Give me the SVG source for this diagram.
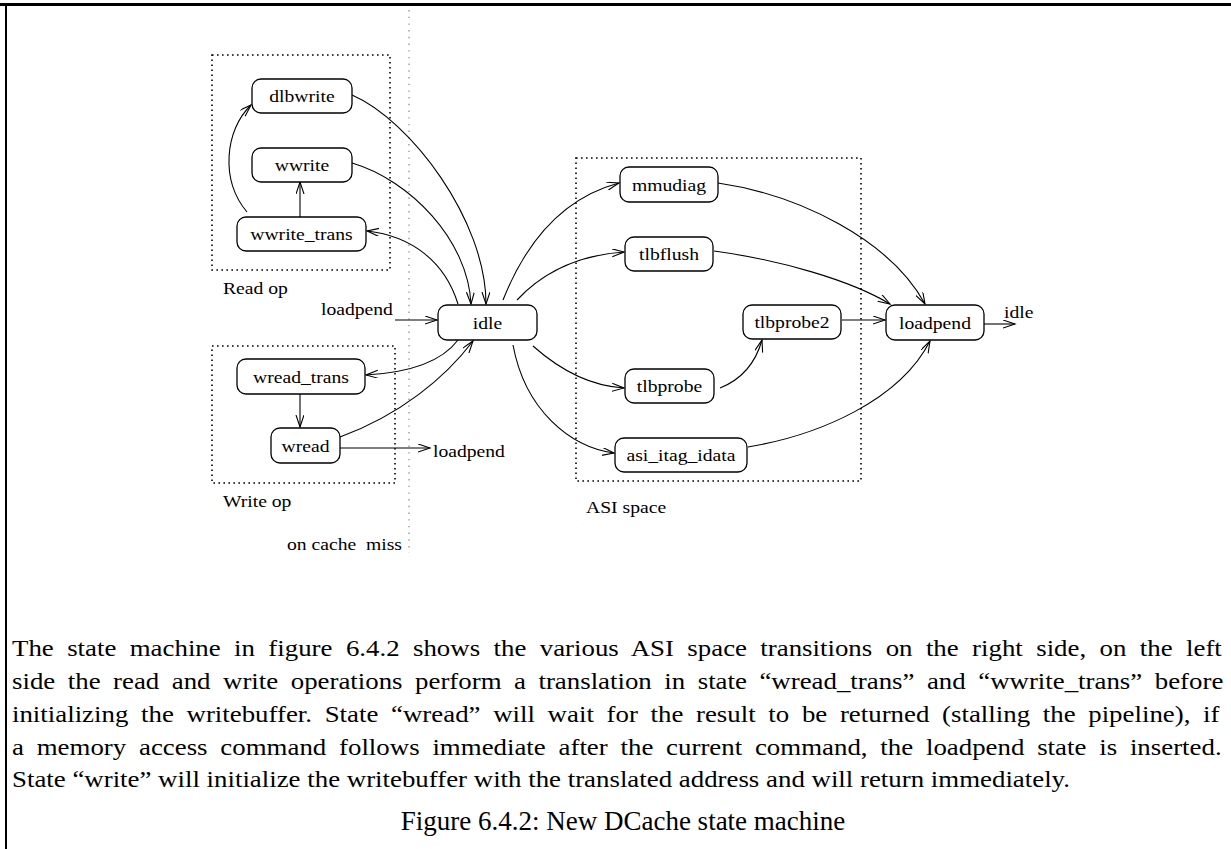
<svg xmlns="http://www.w3.org/2000/svg" width="1231" height="849" viewBox="0 0 1231 849">
<style>
.node rect{fill:#fff;stroke:#000;stroke-width:1.3}
.node text,.lbl{font-family:"Liberation Serif","Times New Roman",serif;font-size:16.5px;fill:#000;transform-box:fill-box;transform:scaleX(1.19)}
.node text{text-anchor:middle;transform-origin:50% 50%}
.lbl{transform-origin:0 50%}
.box{fill:none;stroke:#000;stroke-width:1.6;stroke-dasharray:1.6 3.4}
#connectors path{fill:none;stroke:#000;stroke-width:1.1;marker-end:url(#ah)}
.body{font-family:"Liberation Serif","Times New Roman",serif;font-size:22.5px;fill:#000;transform-box:fill-box;transform-origin:0 50%;transform:scaleX(1.194)}
.cap{font-family:"Liberation Serif","Times New Roman",serif;font-size:27px;fill:#000;text-anchor:middle}
</style>
<defs>
<marker id="ah" markerUnits="userSpaceOnUse" markerWidth="14" markerHeight="10" refX="12" refY="4" orient="auto">
<path d="M0,0 L12,4 L0,8" fill="none" stroke="#000" stroke-width="1.1"/>
</marker>
</defs>
<rect width="1231" height="849" fill="#fff"/>
<line x1="0" y1="4.5" x2="1231" y2="4.5" stroke="#000" stroke-width="3"/>
<line x1="6" y1="3" x2="6" y2="849" stroke="#000" stroke-width="2"/>
<line x1="409" y1="10" x2="409" y2="553" stroke="#999" stroke-width="1.4" stroke-dasharray="1.4 5.3"/>

<rect class="box" x="212" y="55" width="178" height="215"/>
<rect class="box" x="212" y="346" width="183" height="137"/>
<rect class="box" x="576" y="158" width="285" height="323"/>

<text class="lbl" x="223" y="294">Read op</text>
<text class="lbl" x="223" y="507">Write op</text>
<text class="lbl" x="321" y="315">loadpend</text>
<text class="lbl" x="433" y="457">loadpend</text>
<text class="lbl" x="287" y="550">on cache&#160; miss</text>
<text class="lbl" x="586" y="513">ASI space</text>
<text class="lbl" x="1004" y="318">idle</text>

<g id="connectors">
<path d="M352,95 C410,120 486,220 486,304"/>
<path d="M352,163 C410,180 468,240 471,304"/>
<path d="M458,304 C445,262 412,236 367,231"/>
<path d="M247,212 C220,180 225,130 251,105"/>
<path d="M300,217 L300,182"/>
<path d="M395,320 L437,320"/>
<path d="M458,340 C440,364 402,373 366,375"/>
<path d="M340,437 C400,415 445,378 473,341"/>
<path d="M300,394 L300,427"/>
<path d="M340,448 L430,448"/>
<path d="M503,300 C530,232 570,196 619,183"/>
<path d="M517,300 C545,270 580,255 624,252"/>
<path d="M533,346 C560,370 590,386 624,388"/>
<path d="M513,345 C525,410 570,447 614,453"/>
<path d="M718,183 C800,195 890,240 925,304"/>
<path d="M714,251 C780,260 850,280 890,304"/>
<path d="M842,320 L885,320"/>
<path d="M720,388 C740,380 755,365 762,340"/>
<path d="M748,447 C820,435 900,400 930,341"/>
<path d="M984,324 L1015,324"/>
</g>

<g id="dlbwrite" class="node"><rect x="252" y="79" width="100" height="34" rx="9"/><text x="302" y="102">dlbwrite</text></g>
<g id="wwrite" class="node"><rect x="252" y="148" width="100" height="34" rx="9"/><text x="302" y="171">wwrite</text></g>
<g id="wwrite_trans" class="node"><rect x="237" y="217" width="129" height="34" rx="9"/><text x="301.5" y="240">wwrite_trans</text></g>
<g id="idle" class="node"><rect x="438" y="305" width="99" height="35" rx="9"/><text x="487.5" y="329">idle</text></g>
<g id="wread_trans" class="node"><rect x="237" y="359" width="128" height="35" rx="9"/><text x="301" y="383">wread_trans</text></g>
<g id="wread" class="node"><rect x="271" y="428" width="69" height="35" rx="9"/><text x="305.5" y="452">wread</text></g>
<g id="mmudiag" class="node"><rect x="620" y="167" width="98" height="35" rx="9"/><text x="669" y="191">mmudiag</text></g>
<g id="tlbflush" class="node"><rect x="625" y="237" width="88" height="34" rx="9"/><text x="669" y="260">tlbflush</text></g>
<g id="tlbprobe" class="node"><rect x="625" y="369" width="89" height="34" rx="9"/><text x="669.5" y="392">tlbprobe</text></g>
<g id="asi_itag_idata" class="node"><rect x="615" y="438" width="132" height="34" rx="9"/><text x="681" y="461">asi_itag_idata</text></g>
<g id="tlbprobe2" class="node"><rect x="743" y="305" width="98" height="34" rx="9"/><text x="792" y="328">tlbprobe2</text></g>
<g id="loadpend" class="node"><rect x="886" y="305" width="98" height="35" rx="9"/><text x="935" y="329">loadpend</text></g>

<text class="body" x="12" y="656" style="word-spacing:5.6px">The state machine in figure 6.4.2 shows the various ASI space transitions on the right side, on the left</text>
<text class="body" x="12" y="689" style="word-spacing:4.85px">side the read and write operations perform a translation in state “wread_trans” and “wwrite_trans” before</text>
<text class="body" x="12" y="722" style="word-spacing:5.0px">initializing the writebuffer. State “wread” will wait for the result to be returned (stalling the pipeline), if</text>
<text class="body" x="12" y="755" style="word-spacing:5.1px">a memory access command follows immediate after the current command, the loadpend state is inserted.</text>
<text class="body" x="12" y="787">State “write” will initialize the writebuffer with the translated address and will return immediately.</text>
<text class="cap" x="623" y="830">Figure 6.4.2: New DCache state machine</text>
</svg>
